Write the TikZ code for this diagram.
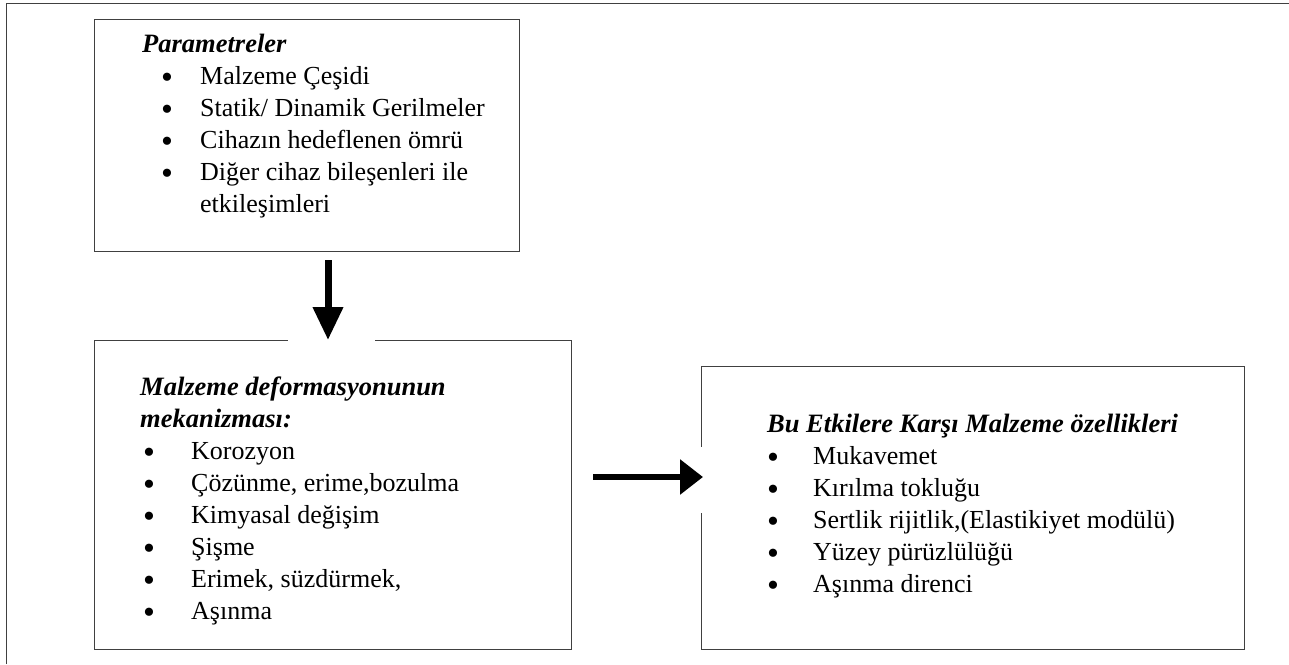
\documentclass[tikz,border=0pt]{standalone}
\usepackage{fontspec}
\setmainfont{Liberation Serif}
\usetikzlibrary{arrows.meta}
\begin{document}
\begin{tikzpicture}[x=1pt,y=-1pt,
  box/.style={draw=black!75, line width=1.4pt, anchor=north west, inner sep=0pt},
  txt/.style={anchor=base west, inner sep=0pt, font=\fontsize{26}{30}\selectfont},
  head/.style={anchor=base west, inner sep=0pt, font=\fontsize{26.5}{30}\selectfont\bfseries\itshape},
  bul/.style={anchor=base, inner sep=0pt, yshift=-4pt, font=\fontsize{34}{36}\selectfont},
  downarrow/.style={line width=7pt, -{Triangle[width=29pt,length=33pt]}},
  rightarrow/.style={line width=6pt, -{Triangle[width=34pt,length=23pt]}}
]
\useasboundingbox (0,0) rectangle (1289,664);
\fill[white] (0,0) rectangle (1289,664);
% outer frame
\draw[black!75, line width=1.5pt] (6.5,664) -- (6.5,3.5) -- (1289,3.5);

% boxes
\node[box, minimum width=425pt, minimum height=232pt] (params) at (94,19) {};
\node[box, minimum width=477pt, minimum height=309pt] (mech) at (94,340) {};
\node[box, minimum width=543pt, minimum height=283pt] (props) at (701,366) {};

% gaps behind arrows
\fill[white] (288,254) rectangle (375,346);
\fill[white] (690,447) rectangle (712,513);

% arrows
\path (params.south -| 328,0) ++(0,8) coordinate (dA);
\path (mech.north -| 328,0) coordinate (dB);
\draw[downarrow] (dA) -- (dB);
\path (mech.east |- 0,477) ++(21,0) coordinate (hA);
\path (props.west |- 0,477) ++(2,0) coordinate (hB);
\draw[rightarrow] (hA) -- (hB);

% top box text
\node[head] (p0) at (142,52) {Parametreler};
\node[bul] (pb1) at (167,84) {\textbullet};
\node[txt] (p1) at (200,84) {Malzeme Çeşidi};
\node[bul] (pb2) at (167,116) {\textbullet};
\node[txt] (p2) at (200,116) {Statik/ Dinamik Gerilmeler};
\node[bul] (pb3) at (167,148) {\textbullet};
\node[txt] (p3) at (200,148) {Cihazın hedeflenen ömrü};
\node[bul] (pb4) at (167,180) {\textbullet};
\node[txt] (p4) at (200,180) {Diğer cihaz bileşenleri ile};
\node[txt] (p5) at (200,212) {etkileşimleri};

% left box text
\node[head] (m0) at (140,395) {Malzeme deformasyonunun};
\node[head] (m0b) at (140,427) {mekanizması:};
\node[bul] (mb1) at (149,459) {\textbullet};
\node[txt] (m1) at (191,459) {Korozyon};
\node[bul] (mb2) at (149,491) {\textbullet};
\node[txt] (m2) at (191,491) {Çözünme, erime,bozulma};
\node[bul] (mb3) at (149,523) {\textbullet};
\node[txt] (m3) at (191,523) {Kimyasal değişim};
\node[bul] (mb4) at (149,555) {\textbullet};
\node[txt] (m4) at (191,555) {Şişme};
\node[bul] (mb5) at (149,587) {\textbullet};
\node[txt] (m5) at (191,587) {Erimek, süzdürmek,};
\node[bul] (mb6) at (149,619) {\textbullet};
\node[txt] (m6) at (191,619) {Aşınma};

% right box text
\node[head] (r0) at (767,432) {Bu Etkilere Karşı Malzeme özellikleri};
\node[bul] (rb1) at (773,464) {\textbullet};
\node[txt] (r1) at (813,464) {Mukavemet};
\node[bul] (rb2) at (773,496) {\textbullet};
\node[txt] (r2) at (813,496) {Kırılma tokluğu};
\node[bul] (rb3) at (773,528) {\textbullet};
\node[txt] (r3) at (813,528) {Sertlik rijitlik,(Elastikiyet modülü)};
\node[bul] (rb4) at (773,560) {\textbullet};
\node[txt] (r4) at (813,560) {Yüzey pürüzlülüğü};
\node[bul] (rb5) at (773,592) {\textbullet};
\node[txt] (r5) at (813,592) {Aşınma direnci};
\end{tikzpicture}
\end{document}
